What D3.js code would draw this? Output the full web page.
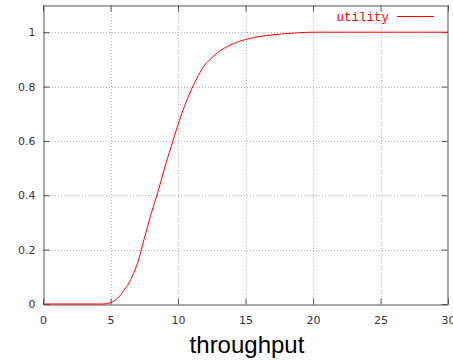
<!DOCTYPE html>
<html>
<head>
<meta charset="utf-8">
<script src="https://cdn.jsdelivr.net/npm/d3@7"></script>
<style>
  body { margin: 0; background: #fff; }
  svg { display: block; }
</style>
</head>
<body>
<div id="chart"></div>
<script>
// values
var throughput = [0, 4.5, 5, 5.5, 6, 6.5, 7, 7.5, 8, 8.5, 9, 9.5, 10, 10.5, 11, 11.5, 12, 12.5, 13, 13.5, 14, 15, 16, 17, 18, 19, 20, 30];
var utility = [0, 0, 0.005, 0.02, 0.05, 0.09, 0.15, 0.24, 0.33, 0.41, 0.5, 0.58, 0.66, 0.73, 0.79, 0.84, 0.88, 0.905, 0.927, 0.943, 0.956, 0.973, 0.984, 0.99, 0.995, 0.998, 1, 1];
var xTicks = [0, 5, 10, 15, 20, 25, 30];
var yTicks = [0, 0.2, 0.4, 0.6, 0.8, 1];

var width = 453, height = 360;
var margin = { top: 5, right: 5, bottom: 56, left: 43 };

var svg = d3.select('#chart').append('svg')
    .attr('width', width)
    .attr('height', height);

var x = d3.scaleLinear().domain([0, 30]).range([margin.left, width - margin.right]);
var y = d3.scaleLinear().domain([0, 1.1]).range([height - margin.bottom, margin.top]);

var data = throughput.map(function(t, i) { return { x: t, y: utility[i] }; });

//grid
svg.append('g')
    .selectAll('line')
    .data(xTicks.slice(1, -1))
    .enter().append('line')
    .attr('x1', d => Math.round(x(d)) + 0.5).attr('x2', d => Math.round(x(d)) + 0.5)
    .attr('y1', y(1.1)).attr('y2', y(0))
    .attr('stroke', '#b4b4b4')
    .attr('stroke-dasharray', '1,2');

svg.append('g')
    .selectAll('line')
    .data(yTicks.slice(1))
    .enter().append('line')
    .attr('x1', x(0)).attr('x2', x(30))
    .attr('y1', d => Math.round(y(d)) + 0.5).attr('y2', d => Math.round(y(d)) + 0.5)
    .attr('stroke', '#b4b4b4')
    .attr('stroke-dasharray', '1,2');

//axes (ticks inward, mirrored)
var tickFont = '"DejaVu Sans", sans-serif';
var axBottom = svg.append('g')
    .attr('transform', 'translate(0,' + (Math.round(y(0)) + 0.5) + ')')
    .call(d3.axisBottom(x).tickValues(xTicks).tickSizeInner(-6).tickSizeOuter(0).tickPadding(12));
var axLeft = svg.append('g')
    .attr('transform', 'translate(' + (x(0) + 0.5) + ',0)')
    .call(d3.axisLeft(y).tickValues(yTicks).tickSizeInner(-6).tickSizeOuter(0).tickPadding(8).tickFormat(d3.format('')));
var axTop = svg.append('g')
    .attr('transform', 'translate(0,' + (y(1.1) + 0.5) + ')')
    .call(d3.axisTop(x).tickValues(xTicks).tickSizeInner(-6).tickSizeOuter(0).tickFormat(''));
var axRight = svg.append('g')
    .attr('transform', 'translate(' + (x(30) - 0.5) + ',0)')
    .call(d3.axisRight(y).tickValues(yTicks).tickSizeInner(-6).tickSizeOuter(0).tickFormat(''));

[axBottom, axLeft, axTop, axRight].forEach(function(g) {
    g.selectAll('path.domain').attr('stroke', '#555');
    g.selectAll('.tick line').attr('stroke', '#555');
    g.selectAll('.tick text')
        .attr('fill', '#333')
        .style('font-family', tickFont)
        .style('font-size', '11px');
});

//curve
var line = d3.line()
    .x(d => x(d.x))
    .y(d => y(d.y))
    .curve(d3.curveMonotoneX);

svg.append('path')
    .datum(data)
    .attr('fill', 'none')
    .attr('stroke', '#ff0000')
    .attr('stroke-width', 1)
    .attr('d', line);

//legend
svg.append('text')
    .attr('x', 389)
    .attr('y', 21)
    .attr('text-anchor', 'end')
    .attr('fill', '#ff0000')
    .style('font-family', '"Liberation Mono", monospace')
    .style('font-size', '12.5px')
    .text('utility');

svg.append('line')
    .attr('x1', 397).attr('x2', 434)
    .attr('y1', 16.5).attr('y2', 16.5)
    .attr('stroke', '#ff0000');

//axis title
svg.append('text')
    .attr('x', 247)
    .attr('y', 353)
    .attr('text-anchor', 'middle')
    .attr('fill', '#000')
    .style('font-family', '"Liberation Sans", Arial, sans-serif')
    .style('font-size', '24px')
    .text('throughput');
</script>
</body>
</html>
